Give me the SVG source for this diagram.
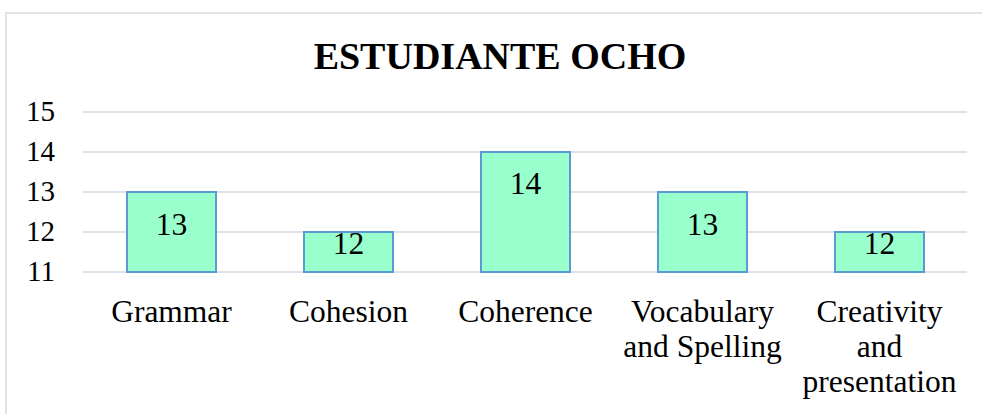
<svg xmlns="http://www.w3.org/2000/svg" width="982" height="414" viewBox="0 0 982 414">
<style>
text{font-family:"Liberation Serif","Times New Roman",serif;fill:#000}
.title{font-size:38px;font-weight:bold}
.ax{font-size:29px;text-anchor:end}
.cat{font-size:31.5px;text-anchor:middle}
.val{font-size:31.5px;text-anchor:middle}
.grid{stroke:#dfe3e8;stroke-width:2}
.bar{fill:#99ffcc;stroke:#5b9bd5;stroke-width:2}
</style>
<rect x="0" y="0" width="982" height="414" fill="#fff"/>
<path d="M6 420 V13 H990" fill="none" stroke="#dfe3e8" stroke-width="2"/>
<text class="title" x="500" y="69" text-anchor="middle">ESTUDIANTE OCHO</text>
<g id="axis">
<line class="grid" x1="83" y1="112" x2="967" y2="112"/>
<line class="grid" x1="83" y1="152" x2="967" y2="152"/>
<line class="grid" x1="83" y1="192" x2="967" y2="192"/>
<line class="grid" x1="83" y1="232" x2="967" y2="232"/>
<line class="grid" x1="83" y1="272" x2="967" y2="272"/>
<text class="ax" x="55" y="121">15</text>
<text class="ax" x="55" y="161">14</text>
<text class="ax" x="55" y="201">13</text>
<text class="ax" x="55" y="241">12</text>
<text class="ax" x="55" y="281">11</text>
</g>
<g id="grammar">
<rect class="bar" x="127" y="192" width="89" height="80"/>
<text class="val" x="171.5" y="235">13</text>
<text class="cat" x="171.5" y="322">Grammar</text>
</g>
<g id="cohesion">
<rect class="bar" x="304" y="232" width="89" height="40"/>
<text class="val" x="348.5" y="254">12</text>
<text class="cat" x="348.5" y="322">Cohesion</text>
</g>
<g id="coherence">
<rect class="bar" x="481" y="152" width="89" height="120"/>
<text class="val" x="525.5" y="194">14</text>
<text class="cat" x="525.5" y="322">Coherence</text>
</g>
<g id="vocabulary">
<rect class="bar" x="658" y="192" width="89" height="80"/>
<text class="val" x="702.5" y="235">13</text>
<text class="cat" x="702.5" y="322">Vocabulary</text>
<text class="cat" x="702.5" y="357">and Spelling</text>
</g>
<g id="creativity">
<rect class="bar" x="835" y="232" width="89" height="40"/>
<text class="val" x="879.5" y="254">12</text>
<text class="cat" x="879.5" y="322">Creativity</text>
<text class="cat" x="879.5" y="357">and</text>
<text class="cat" x="879.5" y="392">presentation</text>
</g>
</svg>
